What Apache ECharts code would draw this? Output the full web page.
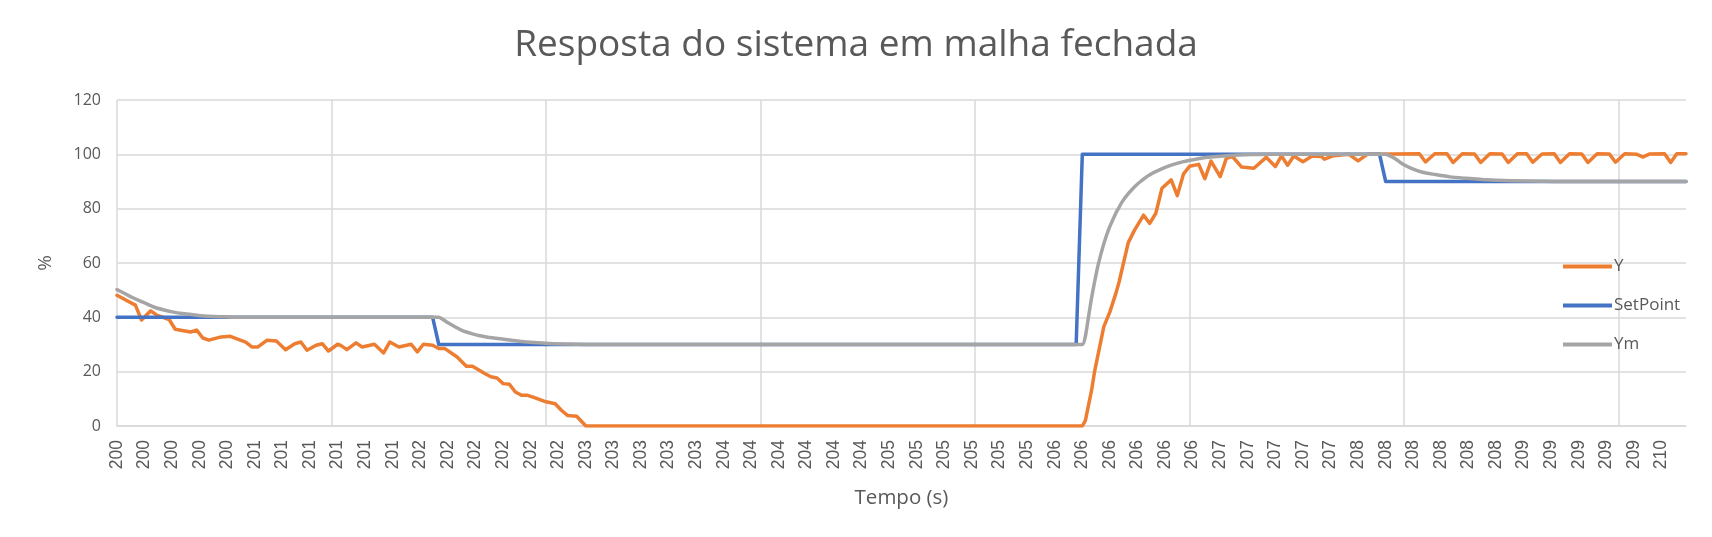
<!DOCTYPE html>
<html>
<head>
<meta charset="utf-8">
<script src="https://cdn.jsdelivr.net/npm/echarts@6/dist/echarts.min.js"></script>
<style>html,body{margin:0;padding:0;background:#fff}#c{width:1712px;height:537px}</style>
</head>
<body>
<div id="c"></div>
<script>
// Number of samples on the category axis (sample index 0..512)
const sampleCount = 513;
// Tick labels shown every 9th sample (rounded time in s)
const tickLabels = [
  '200','200','200','200','200',
  '201','201','201','201','201','201',
  '202','202','202','202','202','202',
  '203','203','203','203','203',
  '204','204','204','204','204','204',
  '205','205','205','205','205','205',
  '206','206','206','206','206','206',
  '207','207','207','207','207',
  '208','208','208','208','208','208',
  '209','209','209','209','209',
  '210'
];
// Series vertices: [sample index, value %]
const ySeries = [[0,48.1],[3,46.3],[6,44.5],[8,39.0],[11,42.4],[13,40.8],[17,39.2],[19,35.6],[24,34.6],[26,35.3],[28,32.4],[30,31.6],[34,32.8],[37,33.0],[42,30.9],[44,29.1],[46,29.1],[49,31.6],[52,31.3],[55,28.1],[58,30.3],[60,30.9],[62,27.9],[65,29.7],[67,30.3],[69,27.6],[72,30.1],[73,29.7],[75,28.1],[78,30.6],[80,29.1],[84,30.1],[87,26.9],[89,30.9],[92,29.1],[96,30.1],[98,27.3],[100,30.1],[103,29.7],[105,28.5],[107,28.5],[111,25.4],[114,22.0],[116,22.0],[120,19.3],[122,18.1],[124,17.7],[126,15.6],[128,15.4],[130,12.5],[132,11.3],[134,11.3],[136,10.5],[140,8.9],[143,8.2],[145,5.8],[147,3.9],[150,3.6],[153,0],[315,0],[316,2],[318,13],[319,20],[321,31],[322,36.5],[324,42],[326,49],[327,53],[330,67.5],[332,72],[335,77.6],[337,74.6],[339,78.3],[341,87.5],[344,90.6],[346,84.8],[348,92.7],[350,95.6],[353,96.3],[355,91],[357,97.5],[360,91.8],[362,98.5],[364,99.2],[367,95.3],[371,94.9],[375,98.9],[378,95.5],[380,99.4],[382,96],[384,99.4],[387,97.3],[390,99.4],[393,99.2],[394,98.2],[397,99.5],[402,100],[405,97.6],[408,100],[425,100.2],[427,97.2],[430,100.2],[434,100.2],[436,97.0],[439,100.2],[443,100.1],[445,97.0],[448,100.2],[452,100.1],[454,97.0],[457,100.2],[460,100.2],[462,97.1],[465,100.1],[469,100.2],[471,97.0],[474,100.2],[478,100.1],[480,97.0],[483,100.2],[487,100.1],[489,97.1],[492,100.2],[496,100],[498,99.0],[500,100.1],[505,100.2],[507,97.0],[509,100.2],[512,100.2]];
const setPointSeries = [[0,40],[103,40],[105,30],[313,30],[315,100],[412,100],[414,90],[512,90]];
const ymSeries = [[0,50.2],[3,48.5],[5,47.3],[9,45.3],[12,43.8],[15,42.8],[18,42.0],[22,41.3],[26,40.8],[30,40.4],[35,40.2],[40,40.0],[105,40.0],[106,39.5],[108,38.0],[110,36.7],[112,35.5],[114,34.6],[116,33.9],[118,33.3],[121,32.7],[125,32.1],[130,31.4],[136,30.7],[142,30.3],[150,30.05],[156,30],[315,30],[316,33],[317,40],[318,47],[319,53],[320,58.5],[321,63],[322,67],[323,70.5],[324,73.5],[325,76],[326,78.5],[327,80.5],[328,82.5],[330,85.5],[332,88],[334,90],[337,92.5],[340,94.2],[344,96],[348,97.3],[352,98.2],[356,98.9],[362,99.5],[370,99.9],[378,100],[414,100],[415,99.6],[417,98.5],[419,96.8],[422,95],[426,93.4],[430,92.6],[435,91.7],[440,91.2],[447,90.6],[455,90.3],[465,90.1],[470,90],[512,90]];

const categories = [];
for (let i = 0; i < sampleCount; i++) categories.push(i % 9 === 0 ? (tickLabels[i / 9] || '') : '');

const txt = '#595959';
const chart = echarts.init(document.getElementById('c'), null, {renderer: 'canvas'});
chart.setOption({
  animation: false,
  backgroundColor: '#ffffff',
  title: {
    text: 'Resposta do sistema em malha fechada',
    left: 'center', top: 22,
    textStyle: {fontFamily: 'Open Sans', fontSize: 37, fontWeight: 'normal', color: txt}
  },
  legend: {
    orient: 'vertical', left: 1558, top: 253,
    itemWidth: 49, itemHeight: 4, itemGap: 22, icon: 'rect',
    textStyle: {fontFamily: 'Open Sans', fontSize: 17, color: txt, padding: [0,0,0,-3]},
    data: ['Y', 'SetPoint', 'Ym']
  },
  grid: {left: 117, right: 26, top: 100, bottom: 111},
  xAxis: {
    type: 'category', data: categories, boundaryGap: false,
    name: 'Tempo (s)', nameLocation: 'middle', nameGap: 62,
    nameTextStyle: {fontFamily: 'Open Sans', fontSize: 20.5, color: txt},
    axisLine: {lineStyle: {color: '#D9D9D9', width: 1.5}},
    axisTick: {show: false},
    axisLabel: {interval: 8, rotate: 90, margin: 14, fontFamily: 'Liberation Sans', fontSize: 17.5, color: txt},
    splitLine: {show: true, interval: 69, lineStyle: {color: '#D9D9D9', width: 1.5}}
  },
  yAxis: {
    type: 'value', min: 0, max: 120, interval: 20,
    name: '%', nameLocation: 'middle', nameGap: 62, nameRotate: 90,
    nameTextStyle: {fontFamily: 'Open Sans', fontSize: 19, color: txt},
    axisLine: {show: false}, axisTick: {show: false},
    axisLabel: {margin: 16, fontFamily: 'Open Sans', fontSize: 16, color: txt},
    splitLine: {lineStyle: {color: '#D9D9D9', width: 1.5}}
  },
  series: [
    {name: 'Y', type: 'line', data: ySeries, symbol: 'none', lineStyle: {color: '#ED7D31', width: 3.5, join: 'round', cap: 'round'}, itemStyle: {color: '#ED7D31'}, z: 2},
    {name: 'SetPoint', type: 'line', data: setPointSeries, symbol: 'none', lineStyle: {color: '#4472C4', width: 3.5, join: 'round', cap: 'round'}, itemStyle: {color: '#4472C4'}, z: 3},
    {name: 'Ym', type: 'line', data: ymSeries, symbol: 'none', smooth: 0.2, lineStyle: {color: '#A5A5A5', width: 3.5, join: 'round', cap: 'round'}, itemStyle: {color: '#A5A5A5'}, z: 4}
  ]
});
</script>
</body>
</html>
